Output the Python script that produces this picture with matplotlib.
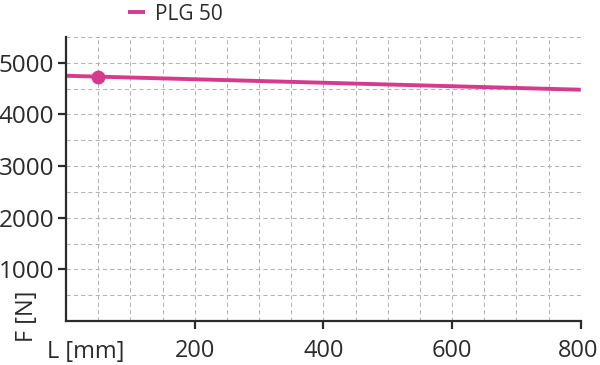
import matplotlib
matplotlib.use("Agg")
import matplotlib.pyplot as plt
import matplotlib.transforms as mtransforms
from matplotlib.ticker import MultipleLocator

plt.rcParams["font.family"] = ["Open Sans", "DejaVu Sans"]

length = [0, 800]
force = [4750, 4480]
point_length = [50]
point_force = [4730]
series_name = "PLG 50"
x_ticks = [200, 400, 600, 800]
y_ticks = [1000, 2000, 3000, 4000, 5000]

pink = "#d63a8c"
dark = "#2b2b2b"

fig = plt.figure(figsize=(6, 3.65), dpi=100)
ax = fig.add_axes([0.11, 0.1205, 0.858, 0.778])

ax.plot(length, force, color=pink, lw=2.8, label=series_name, solid_capstyle="butt")
ax.plot(point_length, point_force, "o", color=pink, ms=9)

ax.set_xlim(0, 800)
ax.set_ylim(0, 5500)
ax.set_xticks(x_ticks)
ax.set_yticks(y_ticks)
ax.xaxis.set_minor_locator(MultipleLocator(50))
ax.yaxis.set_minor_locator(MultipleLocator(500))
ax.grid(which="both", color="#b4b4b4", ls=(0, (4, 3)), lw=0.75)
ax.set_axisbelow(True)

for s in ["top", "right"]:
    ax.spines[s].set_visible(False)
for s in ["left", "bottom"]:
    ax.spines[s].set_color(dark)
    ax.spines[s].set_linewidth(1.6)
ax.tick_params(which="major", length=6, width=1.6, color=dark, labelsize=17.5, labelcolor=dark)
ax.tick_params(axis="x", pad=7, labelsize=17)
ax.tick_params(axis="y", pad=2.5)
ax.tick_params(which="minor", length=0)

# keep the last x label inside the figure
last = ax.get_xticklabels()[-1]
last.set_transform(last.get_transform() + mtransforms.ScaledTranslation(-3 / 100, 0, fig.dpi_scale_trans))

fig.text(0.078, 0.036, "L [mm]", fontsize=17, color=dark, ha="left", va="center")
fig.text(0.045, 0.062, "F [N]", fontsize=17, color=dark, rotation=90, ha="center", va="bottom")

ax.legend(loc="lower center", bbox_to_anchor=(0.213, 1.0), frameon=False, fontsize=15,
          handlelength=0.8, handletextpad=0.5, labelcolor=dark, borderaxespad=0.2)

fig.savefig("out.png", dpi=100)
